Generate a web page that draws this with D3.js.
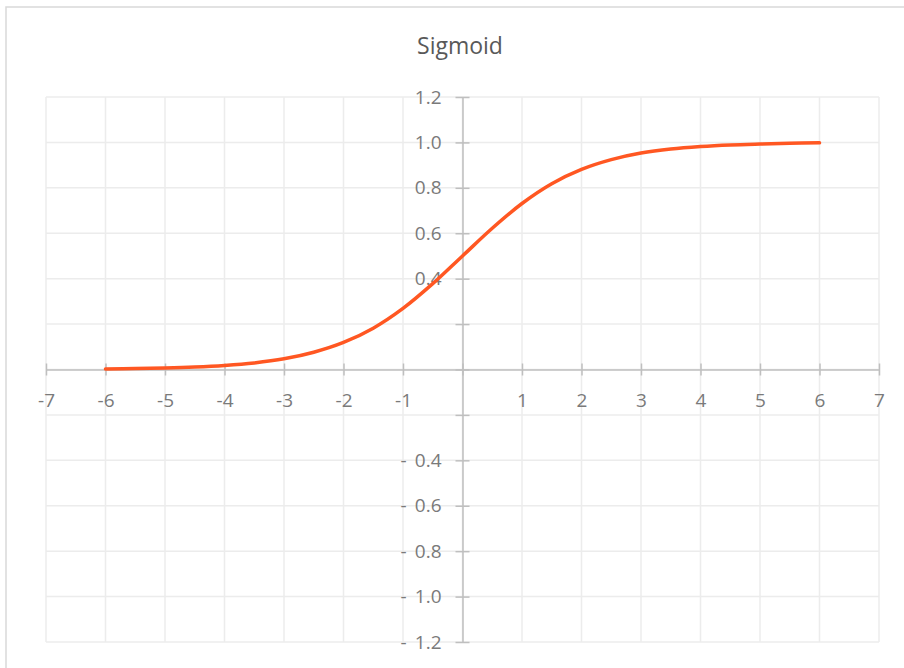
<!DOCTYPE html>
<html>
<head>
<meta charset="utf-8">
<script src="https://cdn.jsdelivr.net/npm/d3@7"></script>
<style>
  body { margin: 0; background: #fff; }
  text { font-family: "Open Sans", "Noto Sans", sans-serif; fill: #7f7f7f; }
</style>
</head>
<body>
<div id="chart"></div>
<script>
const width = 904
const height = 668

// valores
const xValues = [-6, -5.5, -5, -4.5, -4, -3.5, -3, -2.5, -2, -1.5, -1, -0.5, 0, 0.5, 1, 1.5, 2, 2.5, 3, 3.5, 4, 4.5, 5, 5.5, 6]
const yValues = [0.0025, 0.0041, 0.0067, 0.011, 0.018, 0.029, 0.047, 0.076, 0.119, 0.182, 0.269, 0.378, 0.5, 0.622, 0.731, 0.818, 0.881, 0.924, 0.953, 0.971, 0.982, 0.989, 0.993, 0.996, 0.998]
const xTicks = [-7, -6, -5, -4, -3, -2, -1, 0, 1, 2, 3, 4, 5, 6, 7]
const xTickLabels = ["-7", "-6", "-5", "-4", "-3", "-2", "-1", "", "1", "2", "3", "4", "5", "6", "7"]
const yTicks = [-1.2, -1.0, -0.8, -0.6, -0.4, -0.2, 0, 0.2, 0.4, 0.6, 0.8, 1.0, 1.2]
const yTickLabels = ["1.2", "1.0", "0.8", "0.6", "0.4", "", "", "", "0.4", "0.6", "0.8", "1.0", "1.2"]

const plot = { left: 46, right: 879, top: 97, bottom: 642 }
const labelSize = "19px"

const svg = d3.select("div#chart")
    .append("svg")
    .attr("width", width)
    .attr("height", height)

// marco exterior
svg.append("path")
    .attr("d", `M6,${height} V7 H${width}`)
    .attr("fill", "none")
    .attr("stroke", "#d9d9d9")
    .attr("stroke-width", 1.5)

svg.append("text")
    .attr("x", 460)
    .attr("y", 54)
    .attr("text-anchor", "middle")
    .style("font-size", "23px")
    .style("fill", "#595959")
    .text("Sigmoid")

const x = d3.scaleLinear().domain([-7, 7]).range([plot.left, plot.right])
const y = d3.scaleLinear().domain([-1.2, 1.2]).range([plot.bottom, plot.top])

// rejilla
const grid = svg.append("g").attr("stroke", "#ececec").attr("stroke-width", 1.5)
grid.selectAll("line.v").data(xTicks).join("line")
    .attr("class", "v")
    .attr("x1", d => x(d)).attr("x2", d => x(d))
    .attr("y1", plot.top).attr("y2", plot.bottom)
grid.selectAll("line.h").data(yTicks).join("line")
    .attr("class", "h")
    .attr("y1", d => y(d)).attr("y2", d => y(d))
    .attr("x1", plot.left).attr("x2", plot.right)

// ejes cruzando en 0
const xAxis = d3.axisBottom(x).tickValues(xTicks).tickSize(6).tickSizeOuter(0).tickFormat((d, i) => xTickLabels[i])
const yAxis = d3.axisLeft(y).tickValues(yTicks).tickSize(6).tickSizeOuter(0).tickFormat((d, i) => yTickLabels[i])

const xAxisGroup = svg.append("g").attr("transform", `translate(0,${y(0)})`).call(xAxis)
const yAxisGroup = svg.append("g").attr("transform", `translate(${x(0)},0)`).call(yAxis)

for (const g of [xAxisGroup, yAxisGroup]) {
    g.select(".domain").attr("stroke", "#bfbfbf").attr("stroke-width", 1.5)
    g.selectAll(".tick line").attr("stroke", "#bfbfbf").attr("stroke-width", 1.5)
    g.selectAll(".tick text").style("font-size", labelSize).style("fill", "#7a7a7a")
}
// marcas en cruz
xAxisGroup.selectAll(".tick line").attr("y1", -6).attr("y2", 6)
xAxisGroup.selectAll(".tick text").attr("y", 24)
yAxisGroup.selectAll(".tick line").attr("x1", -7).attr("x2", 7)
yAxisGroup.selectAll(".tick text").attr("x", -21)

// signo menos separado en las etiquetas negativas
yAxisGroup.selectAll(".tick").filter(d => d < -0.3).append("text")
    .attr("x", -56).attr("dy", "0.32em")
    .attr("text-anchor", "end")
    .style("font-size", labelSize)
    .style("fill", "#7a7a7a")
    .text("-")

const line = d3.line()
    .x((d, i) => x(xValues[i]))
    .y(d => y(d))
    .curve(d3.curveCatmullRom)

svg.append("path")
    .datum(yValues)
    .attr("d", line)
    .attr("fill", "none")
    .attr("stroke", "#ff5722")
    .attr("stroke-width", 3.5)
    .attr("stroke-linecap", "round")
</script>
</body>
</html>
